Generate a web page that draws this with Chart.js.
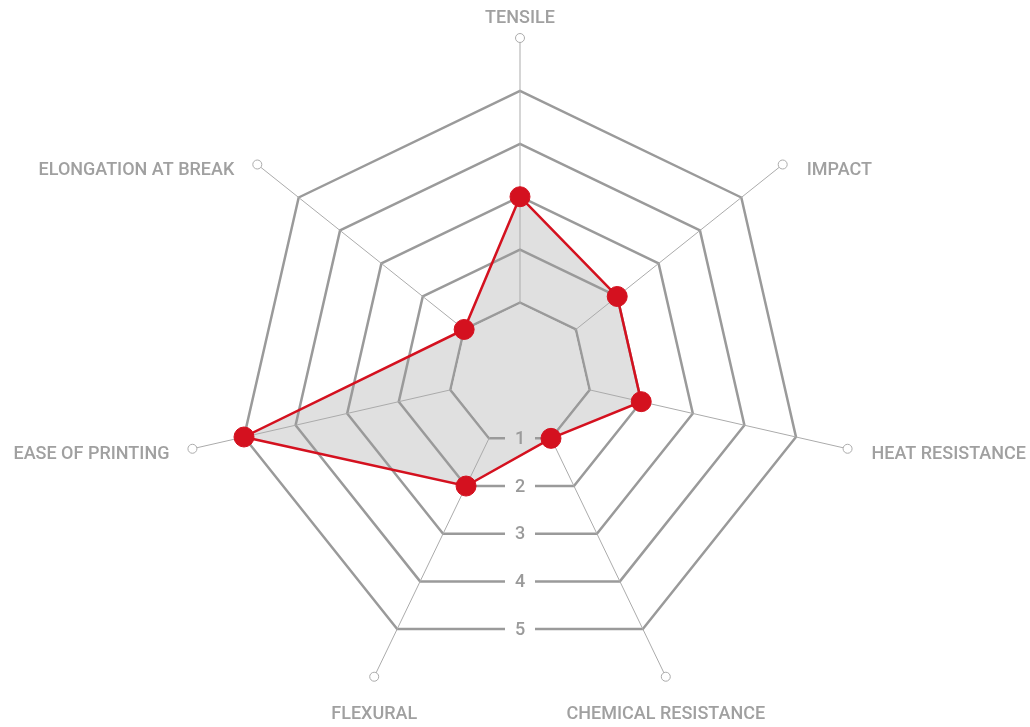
<!DOCTYPE html>
<html>
<head>
<meta charset="utf-8">
<script src="https://cdn.jsdelivr.net/npm/chart.js@4.4.1/dist/chart.umd.min.js"></script>
<style>
    html, body { margin: 0; padding: 0; background: #fff; }
    #wrap { width: 1030px; height: 727px; position: relative; }
</style>
</head>
<body>
<div id="wrap"><canvas id="radarChart"></canvas></div>
<script>
// Dados do gráfico
const categories = ['TENSILE', 'IMPACT', 'HEAT RESISTANCE', 'CHEMICAL RESISTANCE', 'FLEXURAL', 'EASE OF PRINTING', 'ELONGATION AT BREAK'];
const ratings = [3, 2, 2, 1, 2, 5, 1];
const tickValues = [1, 2, 3, 4, 5];
const scaleMin = -0.35;
const scaleMax = 6;

// Cores
const red = '#d4111f';
const gridGray = '#9a9a9a';
const angleGray = '#ababab';
const textGray = '#a0a0a0';
const fillGray = '#e0e0e0';

// Desenha rótulos, círculos das pontas e escala "1..5" embaixo
const radarDecor = {
    id: 'radarDecor',
    beforeDatasetsDraw(chart) {
        const scale = chart.scales.r;
        const ctx = chart.ctx;
        const n = categories.length;
        const outer = scale.getDistanceFromCenterForValue(scaleMax);
        const meta = chart.getDatasetMeta(0);

        ctx.save();

        // esconde as linhas de ângulo dentro do primeiro nível
        const inner = scale.getDistanceFromCenterForValue(tickValues[0]) - 1.5;
        ctx.beginPath();
        for (let i = 0; i < n; i++) {
            const p = scale.getPointPosition(i, inner);
            if (i === 0) ctx.moveTo(p.x, p.y); else ctx.lineTo(p.x, p.y);
        }
        ctx.closePath();
        ctx.fillStyle = fillGray;
        ctx.fill();

        // caminho da área de dados, para saber a cor de fundo
        const dataPath = new Path2D();
        meta.data.forEach((pt, i) => {
            if (i === 0) dataPath.moveTo(pt.x, pt.y); else dataPath.lineTo(pt.x, pt.y);
        });
        dataPath.closePath();

        // rótulos da escala na aresta de baixo
        const lo = Math.floor(n / 2);
        ctx.font = '500 18px Roboto';
        ctx.textAlign = 'center';
        ctx.textBaseline = 'middle';
        tickValues.forEach(v => {
            const d = scale.getDistanceFromCenterForValue(v);
            const a = scale.getPointPosition(lo, d);
            const b = scale.getPointPosition(lo + 1, d);
            const x = (a.x + b.x) / 2;
            const y = (a.y + b.y) / 2;
            ctx.fillStyle = ctx.isPointInPath(dataPath, x, y) ? fillGray : '#fff';
            ctx.fillRect(x - 15, y - 5, 30, 10);
            ctx.fillStyle = gridGray;
            ctx.fillText(String(v), x, y + 1);
        });

        // círculos nas pontas + nomes dos eixos
        ctx.font = '500 18px Roboto';
        ctx.textBaseline = 'middle';
        for (let i = 0; i < n; i++) {
            const p = scale.getPointPosition(i, outer);
            ctx.beginPath();
            ctx.arc(p.x, p.y, 4.5, 0, Math.PI * 2);
            ctx.fillStyle = '#fff';
            ctx.fill();
            ctx.lineWidth = 1;
            ctx.strokeStyle = angleGray;
            ctx.stroke();

            ctx.fillStyle = textGray;
            const dx = p.x - scale.xCenter;
            if (Math.abs(dx) < 2) {
                ctx.textAlign = 'center';
                ctx.fillText(categories[i], p.x, p.y - 20);
            } else if (p.y > scale.yCenter + outer * 0.6) {
                ctx.textAlign = 'center';
                ctx.fillText(categories[i], p.x, p.y + 38);
            } else {
                ctx.textAlign = dx > 0 ? 'left' : 'right';
                ctx.fillText(categories[i], p.x + (dx > 0 ? 24 : -23), p.y + 6);
            }
        }

        ctx.restore();
    }
};

const ctx = document.getElementById('radarChart').getContext('2d');
new Chart(ctx, {
    type: 'radar',
    data: {
        labels: categories,
        datasets: [{
            data: ratings,
            fill: 'start',
            backgroundColor: fillGray,
            borderColor: red,
            borderWidth: 2.5,
            pointRadius: 10,
            pointHoverRadius: 10,
            pointBackgroundColor: red,
            pointBorderColor: red,
            pointBorderWidth: 1
        }]
    },
    options: {
        responsive: true,
        maintainAspectRatio: false,
        animation: false,
        layout: { padding: { top: 38, bottom: 17, left: 10, right: 0 } },
        plugins: {
            legend: { display: false },
            tooltip: { enabled: false },
            filler: { drawTime: 'beforeDraw' }
        },
        scales: {
            r: {
                min: scaleMin,
                max: scaleMax,
                afterBuildTicks: scale => {
                    scale.ticks = [scaleMin, ...tickValues].map(v => ({ value: v }));
                },
                ticks: { display: false },
                pointLabels: { display: false },
                grid: {
                    color: c => tickValues.includes(c.tick && c.tick.value) ? gridGray : 'rgba(0,0,0,0)',
                    lineWidth: 2.5
                },
                angleLines: { color: angleGray, lineWidth: 1 }
            }
        }
    },
    plugins: [radarDecor]
});
</script>
</body>
</html>
